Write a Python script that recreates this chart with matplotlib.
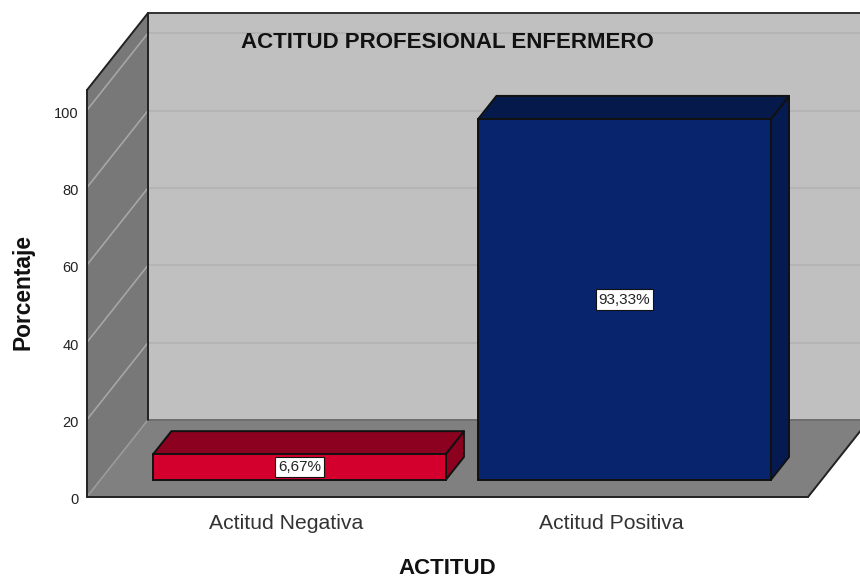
import matplotlib
matplotlib.use('Agg')
import matplotlib.pyplot as plt
from matplotlib.patches import Polygon
from matplotlib.transforms import ScaledTranslation

plt.rcParams['font.family'] = ['Liberation Sans', 'DejaVu Sans']

categorias = ['Actitud Negativa', 'Actitud Positiva']
porcentajes = [6.67, 93.33]
etiquetas = ['6,67%', '93,33%']
y_ticks = [0, 20, 40, 60, 80, 100]

colores_frente = ['#d3002d', '#08246c']
colores_arriba = ['#8c0020', '#051a4a']
colores_lado = ['#8c0020', '#041a50']

# Ejes
x_min, x_max = -0.612, 1.606
y_max = 105.2
ancho_barra = 0.9

# Desplazamiento de la profundidad 3D (en unidades de datos)
prof_x = 61 / 325
prof_y = 77 / 3.87
# Donde empieza y termina la barra dentro de la profundidad
d_frente = 0.22
d_fondo = 0.52


def proy(x, y, d):
    return (x + d * prof_x, y + d * prof_y)


def poly(ax, puntos, color, borde='#111111', lw=1.4, z=2):
    ax.add_patch(Polygon(puntos, closed=True, facecolor=color, edgecolor=borde,
                         linewidth=lw, joinstyle='round', clip_on=False, zorder=z))


def linea(ax, a, b, color, lw, z):
    ax.plot([a[0], b[0]], [a[1], b[1]], color=color, lw=lw, clip_on=False, zorder=z,
            solid_capstyle='round')


fig = plt.figure(figsize=(8.6, 5.81), dpi=100)
ax = fig.add_axes([87 / 860, 84 / 581, 721 / 860, 407 / 581])
ax.set_xlim(x_min, x_max)
ax.set_ylim(0, y_max)
ax.patch.set_visible(False)
for s in ax.spines.values():
    s.set_visible(False)

# Pared del fondo, pared lateral y piso
poly(ax, [proy(x_min, 0, 1), proy(x_max, 0, 1), proy(x_max, y_max, 1), proy(x_min, y_max, 1)],
     '#c0c0c0', borde='none', z=1)
poly(ax, [proy(x_min, 0, 0), proy(x_min, 0, 1), proy(x_min, y_max, 1), proy(x_min, y_max, 0)],
     '#787878', borde='none', z=1.2)
poly(ax, [proy(x_min, 0, 0), proy(x_max, 0, 0), proy(x_max, 0, 1), proy(x_min, 0, 1)],
     '#808080', borde='none', z=1.4)

# Lineas de la cuadricula
for t in y_ticks:
    linea(ax, proy(x_min, t, 1), proy(x_max, t, 1), '#b4b4b4', 1.4, 1.1)
    linea(ax, proy(x_min, t, 0), proy(x_min, t, 1), '#a6a6a6', 1.2, 1.3)

# Bordes: oscuros por fuera, grises donde se une el piso
linea(ax, proy(x_min, 0, 1), proy(x_max, 0, 1), '#6e6e6e', 1.4, 1.5)
linea(ax, proy(x_min, 0, 0), proy(x_min, 0, 1), '#9a9a9a', 1.0, 1.5)
linea(ax, proy(x_min, 0, 0), proy(x_max, 0, 0), '#222222', 1.4, 1.6)
linea(ax, proy(x_max, 0, 0), proy(x_max, 0, 1), '#222222', 1.4, 1.6)
linea(ax, proy(x_min, 0, 0), proy(x_min, y_max, 0), '#222222', 1.4, 1.6)
linea(ax, proy(x_min, y_max, 0), proy(x_min, y_max, 1), '#222222', 1.4, 1.6)
linea(ax, proy(x_min, y_max, 1), proy(x_max, y_max, 1), '#333333', 1.4, 1.6)
linea(ax, proy(x_min, 0, 1), proy(x_min, y_max, 1), '#222222', 1.4, 1.6)

# Barras
for i, v in enumerate(porcentajes):
    x0 = i - ancho_barra / 2
    x1 = i + ancho_barra / 2
    poly(ax, [proy(x1, 0, d_frente), proy(x1, 0, d_fondo), proy(x1, v, d_fondo), proy(x1, v, d_frente)],
         colores_lado[i], z=2)
    poly(ax, [proy(x0, v, d_frente), proy(x1, v, d_frente), proy(x1, v, d_fondo), proy(x0, v, d_fondo)],
         colores_arriba[i], z=2)
    bx, by = proy(i, 0, d_frente)
    ax.bar(bx, v, width=ancho_barra, bottom=by, color=colores_frente[i], edgecolor='#111111',
           linewidth=1.4, clip_on=False, zorder=3)
    ax.text(bx, by + v / 2, etiquetas[i], ha='center', va='center', fontsize=11, color='#222222', zorder=4,
            bbox=dict(boxstyle='square,pad=0.2', facecolor='white', edgecolor='#111111', linewidth=0.8))

ax.set_yticks(y_ticks)
ax.set_xticks(range(len(categorias)))
ax.set_xticklabels(categorias, fontsize=15.2, color='#333333')
ax.tick_params(axis='y', length=0, pad=6, labelsize=10.5, labelcolor='#222222')
ax.tick_params(axis='x', length=0, pad=12.5)

# Los numeros del eje y van 2 px mas abajo que la linea
bajar = ScaledTranslation(0, -2 / 100, fig.dpi_scale_trans)
for lab in ax.get_yticklabels():
    lab.set_transform(lab.get_transform() + bajar)

ax.set_xlabel('ACTITUD', fontsize=16, fontweight='bold', color='#111111')
ax.xaxis.set_label_coords((447 - 87) / 721, -(569 - 497) / 407, transform=ax.transAxes)
ax.xaxis.label.set_va('center')
ax.set_ylabel('Porcentaje', fontsize=16.4, fontweight='bold', color='#111111')
ax.yaxis.set_label_coords((23 - 87) / 721, (497 - 291.5) / 407, transform=ax.transAxes)
ax.yaxis.label.set_va('center')
ax.text((447 - 87) / 721, (497 - 43) / 407, 'ACTITUD PROFESIONAL ENFERMERO', transform=ax.transAxes,
        ha='center', va='center', fontsize=16, fontweight='bold', color='#111111', zorder=5)

fig.savefig('out.png', dpi=100)
